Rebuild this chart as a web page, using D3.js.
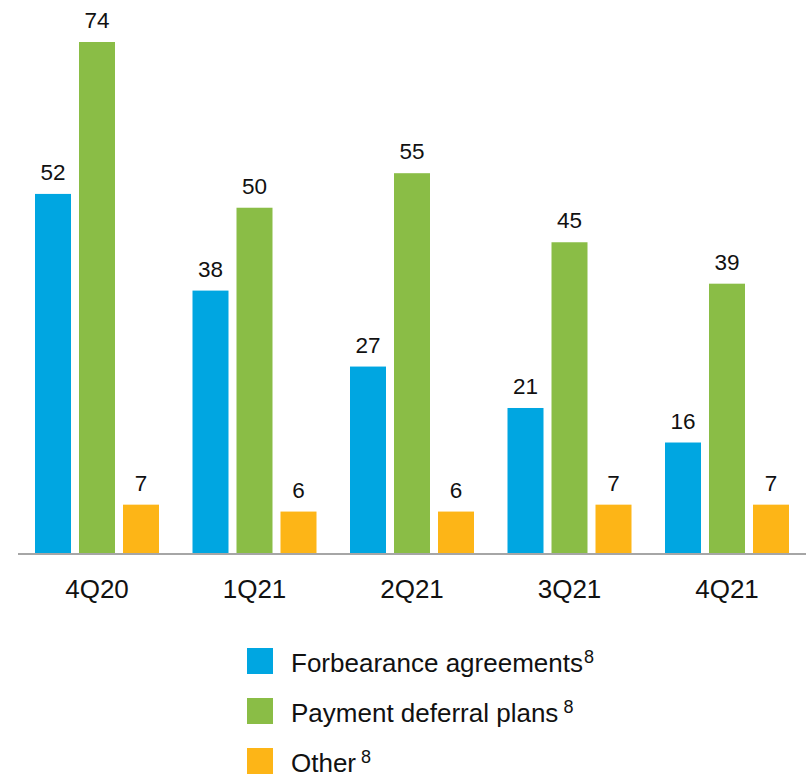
<!DOCTYPE html>
<html>
<head>
<meta charset="utf-8">
<script src="https://cdn.jsdelivr.net/npm/d3@7"></script>
<style>
  html, body { margin: 0; padding: 0; background: #fff; }
  svg { display: block; font-family: "Liberation Sans", Arial, sans-serif; }
</style>
</head>
<body>
<svg id="chart" width="808" height="778"></svg>
<script>
const quarters = ["4Q20", "1Q21", "2Q21", "3Q21", "4Q21"];
const seriesNames = ["Forbearance agreements", "Payment deferral plans", "Other"];
const forbearance = [52, 38, 27, 21, 16];
const deferral = [74, 50, 55, 45, 39];
const other = [7, 6, 6, 7, 7];
const colors = ["#00A6E1", "#8ABD46", "#FDB517"];

const seriesValues = [forbearance, deferral, other];
const rows = quarters.map((q, i) => ({ q, vals: seriesValues.map(s => s[i]) }));

const svg = d3.select("#chart");
const baseY = 553;

const x0 = d3.scaleBand().domain(quarters).range([35, 789]).paddingInner(0.2127).paddingOuter(0);
const x1 = d3.scaleBand().domain(d3.range(3)).range([0, x0.bandwidth()]).paddingInner(0.1818).paddingOuter(0);
const y = d3.scaleLinear().domain([0, 74]).range([baseY, 42]);

const groups = svg.selectAll("g.grp").data(rows).join("g")
  .attr("class", "grp")
  .attr("transform", d => `translate(${x0(d.q)},0)`);

groups.selectAll("rect").data(d => d.vals).join("rect")
  .attr("x", (v, i) => x1(i))
  .attr("y", v => y(v))
  .attr("width", x1.bandwidth())
  .attr("height", v => baseY - y(v))
  .attr("fill", (v, i) => colors[i]);

groups.selectAll("text.val").data(d => d.vals).join("text")
  .attr("class", "val")
  .attr("x", (v, i) => x1(i) + x1.bandwidth() / 2)
  .attr("y", v => y(v) - 14)
  .attr("text-anchor", "middle")
  .attr("font-size", 22.5)
  .attr("fill", "#111")
  .text(v => v);

// baseline axis with category labels
const axis = d3.axisBottom(x0).tickSize(0).tickPadding(25.5);
const ag = svg.append("g").attr("transform", `translate(0,${baseY + 1})`).call(axis);
ag.select(".domain").attr("stroke", "#A6A6A6").attr("stroke-width", 2)
  .attr("d", `M${18},0H${806}`);
ag.selectAll("text").attr("font-size", 26).attr("fill", "#111")
  .attr("font-family", "Liberation Sans, Arial, sans-serif");

// legend
const leg = svg.append("g").selectAll("g").data(seriesNames).join("g")
  .attr("transform", (d, i) => `translate(247,${648 + i * 50})`);
leg.append("rect").attr("width", 26).attr("height", 26).attr("fill", (d, i) => colors[i]);
const lt = leg.append("text").attr("x", 44).attr("y", 24).attr("font-size", 26).attr("fill", "#111");
lt.append("tspan").text(d => d);
lt.append("tspan").attr("dx", (d, i) => i === 0 ? 1 : 5).attr("dy", -9).attr("font-size", 18).text("8");
</script>
</body>
</html>
